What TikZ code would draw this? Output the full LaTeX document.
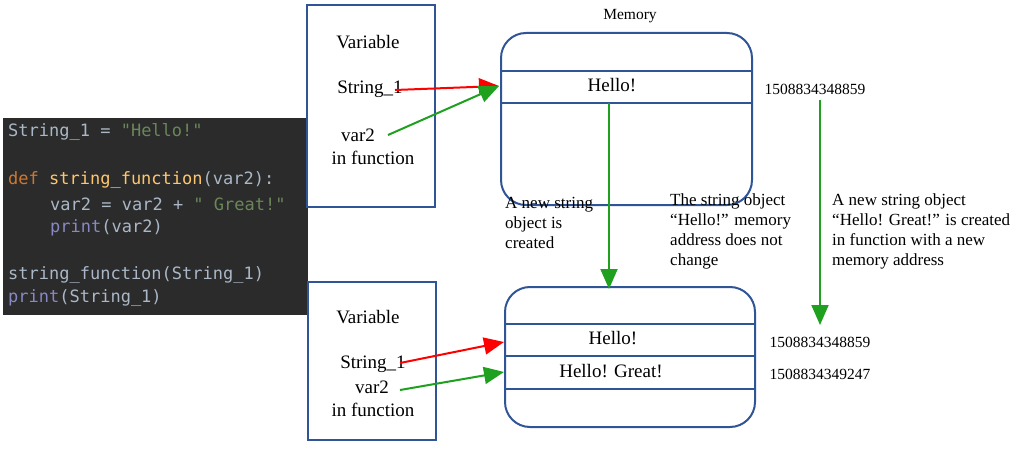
\documentclass[tikz,border=0pt]{standalone}
\usepackage{fontspec}
\usetikzlibrary{arrows.meta}
\setmainfont{Liberation Serif}
\newfontfamily\codefont{DejaVu Sans Mono}
\begin{document}
\begin{tikzpicture}[x=1pt,y=-1pt,
  lbl/.style={font=\fontsize{19}{21}\selectfont},
  sm/.style={font=\fontsize{15.5}{17}\selectfont},
  note/.style={font=\fontsize{17}{20}\selectfont, align=left, anchor=north west, inner sep=0},
  arr/.style={line width=2pt, -{Triangle[length=20pt,width=17pt]}},
  code/.style={font=\codefont\fontsize{17}{18}\selectfont, anchor=west, inner sep=0}]
\definecolor{bl}{HTML}{2F5597}
\definecolor{cid}{HTML}{A9B7C6}
\definecolor{cstr}{HTML}{6A8759}
\definecolor{ckw}{HTML}{CC7832}
\definecolor{cfn}{HTML}{FFC66D}
\definecolor{cpr}{HTML}{8888C6}
\definecolor{gr}{HTML}{1FA01F}
\tikzset{bl/.style={draw=bl, line width=2pt}}
\useasboundingbox (0,0) rectangle (1024,449);
% code
\fill[fill={rgb,255:red,43;green,43;blue,43}] (3,118) rectangle (308,315);
\node[code] (c1) at (8,132) {\color{cid}String\_1 = \color{cstr}"Hello!"};
\node[code] (c2) at (8,180) {\color{ckw}def \color{cfn}string\_function\color{cid}(var2):};
\node[code] (c3) at (50,204) {\color{cid}var2 = var2 + \color{cstr}" Great!"};
\node[code] (c4) at (50,228) {\color{cpr}print\color{cid}(var2)};
\node[code] (c5) at (8,275) {\color{cid}string\_function(String\_1)};
\node[code] (c6) at (8,298) {\color{cpr}print\color{cid}(String\_1)};
% top
\draw[bl] (307,5) rectangle (435,207);
\node[lbl] (v1) at (368,42) {Variable};
\node[lbl] (s1) at (370,89) {String\_1};
\node[lbl] (w1) at (358,135) {var2};
\node[lbl] (f1) at (373,158) {in function};
\node[sm] (mem) at (630,16) {Memory};
\draw[bl, rounded corners=25pt] (501,33) rectangle (752,205);
\draw[bl] (501,71) -- (752,71) (501,103) -- (752,103);
\node[lbl] (h1) at (612,85) {Hello!};
\node[sm] (a1) at (815,89) {1508834348859};
\coordinate (t1) at (499,86);
\draw[arr, red] (395,90) -- (t1);
\draw[arr, gr] (388,135) -- (t1);
% notes
\node[note] (n1) at (505,197) {A new string\\object is\\created};
\node[note] (n2) at (670,194) {The string object\\“Hello!” memory\\address does not\\change};
\node[note] (n3) at (832,194) {A new string object\\“Hello! Great!” is created\\in function with a new\\memory address};
% bottom
\draw[bl] (308,282) rectangle (436,440);
\node[lbl] (v2) at (368,317) {Variable};
\node[lbl] (s2) at (373,364) {String\_1};
\node[lbl] (w2) at (372,387) {var2};
\node[lbl] (f2) at (373,410) {in function};
\draw[bl, rounded corners=25pt] (505,287) rectangle (755,427);
\draw[bl] (505,324) -- (755,324) (505,356) -- (755,356) (505,389) -- (755,389);
\node[lbl] (h2) at (613,338) {Hello!};
\node[lbl] (h3) at (611,371) {Hello! Great!};
\node[sm] (a2) at (820,342) {1508834348859};
\node[sm] (a3) at (820,374) {1508834349247};
\coordinate (p1) at (609,103); \coordinate (p2) at (609,289);
\coordinate (q1) at (820,100); \coordinate (q2) at (820,325);
\draw[arr, gr] (p1) -- (p2);
\draw[arr, gr] (q1) -- (q2);
\draw[arr, red] (400,363) -- (504,342);
\draw[arr, gr] (400,390) -- (504,372);
\end{tikzpicture}
\end{document}
